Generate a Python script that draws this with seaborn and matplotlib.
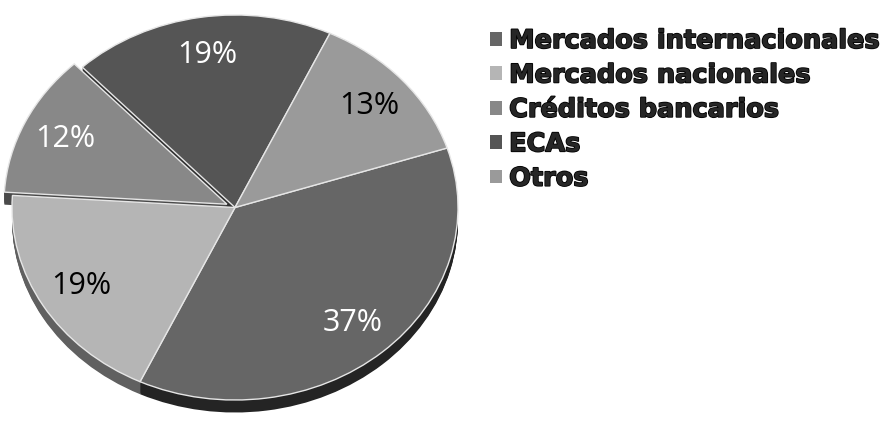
import matplotlib
matplotlib.use("Agg")
import matplotlib.pyplot as plt
import matplotlib.patheffects as pe
from matplotlib.patches import Patch
import seaborn as sns

# Funding sources (share of total, %)
categories = ["Mercados internacionales", "Mercados nacionales",
              "Créditos bancarios", "ECAs", "Otros"]
shares = [37, 19, 12, 19, 13]
top_colors = ["#666666", "#b5b5b5", "#888888", "#555555", "#9a9a9a"]
side_colors = ["#242424", "#606060", "#4a4a4a", "#303030", "#555555"]
label_colors = ["white", "black", "white", "white", "black"]
explode = [0, 0, 0.04, 0, 0]

sns.set_theme(style="white")
plt.rcParams["font.family"] = ["DejaVu Sans"]

fig = plt.figure(figsize=(8.86, 4.23), dpi=100)
ax = fig.add_axes([12 / 886, 23 / 423, 446 / 886, 385 / 423])

start = 18
depth = 0.065
steps = 14

# extruded side of the disc
for i in range(steps, 0, -1):
    off = depth * i / steps
    side, _ = ax.pie(shares, colors=side_colors, startangle=start,
                     counterclock=False, explode=explode,
                     center=(0, -off), radius=1,
                     wedgeprops=dict(linewidth=0))
    for w in side:
        w.set_clip_on(False)

# top face with percentage labels
wedges, _, pcts = ax.pie(shares, colors=top_colors, startangle=start,
                         counterclock=False, explode=explode,
                         autopct="%1.0f%%", pctdistance=0.8, radius=1,
                         wedgeprops=dict(edgecolor="#e6e6e6", linewidth=1.0))
for w in wedges:
    w.set_clip_on(False)
for t, c in zip(pcts, label_colors):
    t.set_color(c)
    t.set_fontfamily(["Open Sans", "DejaVu Sans"])
    t.set_fontsize(22)

ax.set_aspect("auto")
ax.set_xlim(-1, 1)
ax.set_ylim(-1, 1)
ax.axis("off")

handles = [Patch(facecolor=c, edgecolor="none") for c in top_colors]
leg = fig.legend(handles, categories, loc="upper left",
                 bbox_to_anchor=(467 / 886, 1 - 5 / 423),
                 frameon=False, handlelength=0.45, handleheight=0.45,
                 handletextpad=0.3, labelspacing=0.33,
                 prop=dict(family="DejaVu Sans", weight="bold", size=18.4))
for txt in leg.get_texts():
    txt.set_path_effects([pe.withStroke(linewidth=1.2, foreground="black")])

fig.savefig("out.png", dpi=100)
